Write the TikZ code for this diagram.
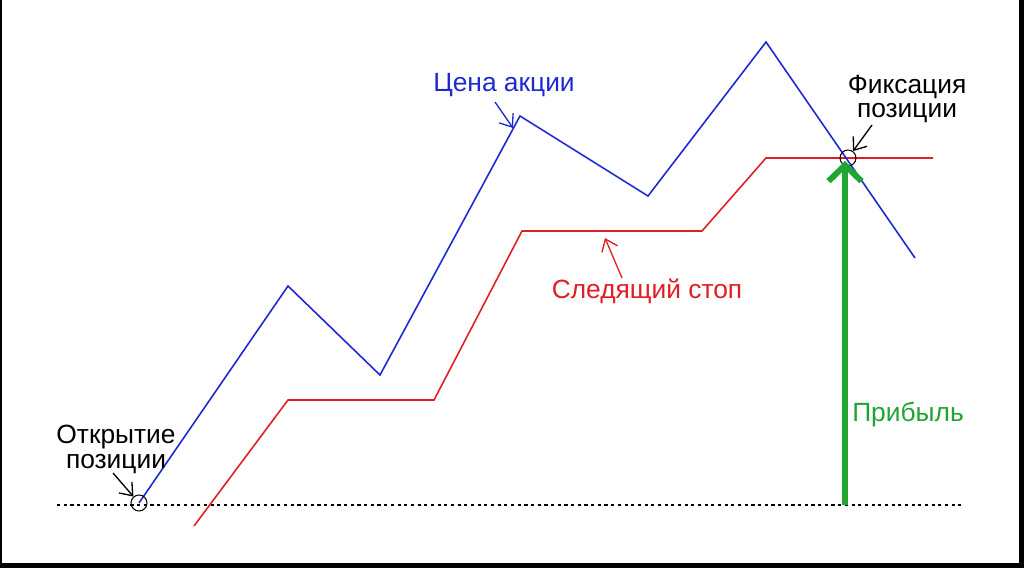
\documentclass[tikz,border=0pt]{standalone}
\usepackage{fontspec}
\setmainfont{Liberation Sans}
\usetikzlibrary{arrows.meta,positioning}
\definecolor{priceblue}{RGB}{30,40,210}
\definecolor{stopred}{RGB}{225,30,35}
\definecolor{profitgreen}{RGB}{30,165,50}
\tikzset{
  price/.style={priceblue, line width=0.9pt, line join=miter},
  stopline/.style={stopred, line width=0.9pt},
  level/.style={black, line width=0.8pt, dash pattern=on 1.8pt off 2pt},
  marker/.style={circle, draw=black, line width=0.6pt, minimum size=0.32cm, inner sep=0pt},
  note/.style={font=\fontsize{15}{14.2}\selectfont, align=center, inner sep=0pt},
  pointer/.style={line width=0.75pt, -{Straight Barb[length=2.2mm, width=3.4mm]}},
  profit/.style={profitgreen, line width=3.4pt, -{Straight Barb[length=3.2mm, width=6.6mm]}}
}
\begin{document}
\begin{tikzpicture}[x=0.02cm, y=-0.02cm]
    \useasboundingbox (0,0) rectangle (1024,568);
    % frame
    \fill[black] (0,0) rectangle (2,568);
    \fill[black] (1019,0) rectangle (1024,568);
    \fill[black] (0,563) rectangle (1024,568);

    % price points
    \coordinate (p0) at (139,503);
    \coordinate (p1) at (288,286);
    \coordinate (p2) at (380,375);
    \coordinate (p3) at (520,116);
    \coordinate (p4) at (648,196);
    \coordinate (p5) at (766,42);
    \coordinate (p6) at (915,258);
    % trailing stop points
    \coordinate (s0) at (194,526);
    \coordinate (s1) at (288,400);
    \coordinate (s2) at (434,400);
    \coordinate (s3) at (522,231);
    \coordinate (s4) at (702,231);
    \coordinate (s5) at (766,158);
    \coordinate (s6) at (933,158);

    \coordinate (levelL) at (57,505);
    \coordinate (levelR) at (963,505);
    \draw[level] (levelL) -- (levelR);

    \draw[stopline] (s0) -- (s1) -- (s2) -- (s3) -- (s4) -- (s5) -- (s6);
    \draw[price] (p0) -- (p1) -- (p2) -- (p3) -- (p4) -- (p5) -- (p6);

    \node (openmk) [marker] at (p0) {};
    \node (fixmk) [marker] at (848,158) {};

    % labels
    \node (openlbl) [note] at (116,449) {Открытие\\позиции};
    \node (fixlbl) [note] at (907,99) {Фиксация\\позиции};
    \node (pricelbl) [note, text=priceblue] at (504,85) {Цена акции};
    \node (stoplbl) [note, text=stopred] at (647,291) {Следящий стоп};
    \node (profitlbl) [note, text=profitgreen] at (908,415) {Прибыль};

    % pointers
    \coordinate (opentail) at (113,473);
    \coordinate (fixtail) at (872,125);
    \coordinate (pricetail) at (495,102);
    \coordinate (pricehit) at (513,128);
    \coordinate (stoptail) at (622,278);
    \coordinate (stophit) at (605,238);
    \draw[pointer] (opentail) -- (openmk);
    \draw[pointer] (fixtail) -- (fixmk);
    \draw[pointer, priceblue] (pricetail) -- (pricehit);
    \draw[pointer, stopred] (stoptail) -- (stophit);

    % profit
    \coordinate (profitbase) at (845,505);
    \coordinate (profittop) at (845,161);
    \draw[profit] (profitbase) -- (profittop);
\end{tikzpicture}
\end{document}
